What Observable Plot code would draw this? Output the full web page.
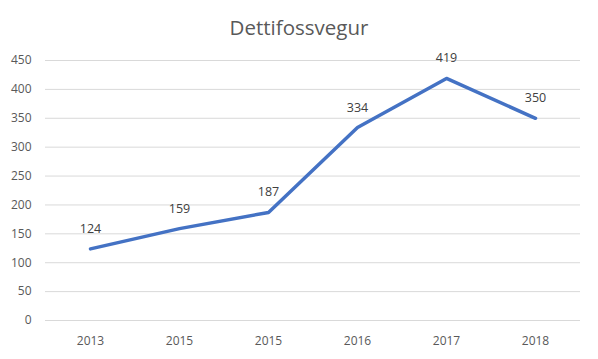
<!DOCTYPE html>
<html>
<head>
<meta charset="utf-8">
<script src="https://cdn.jsdelivr.net/npm/d3@7"></script>
<script src="https://cdn.jsdelivr.net/npm/@observablehq/plot@0.6"></script>
<style>
  body { margin: 0; background: #fff; font-family: "Open Sans", "Liberation Sans", sans-serif; }
  #title { height: 45px; line-height: 54px; text-align: center; font-size: 20.5px; color: #595959; width: 598px; }
</style>
</head>
<body>
<div id="title">Dettifossvegur</div>
<div id="chart"></div>
<script>
const categories = ["2013", "2015", "2015", "2016", "2017", "2018"];
const values = [124, 159, 187, 334, 419, 350];
const yTicks = [0, 50, 100, 150, 200, 250, 300, 350, 400, 450];

const data = categories.map((c, i) => ({i, label: c, value: values[i]}));

const chart = Plot.plot({
  width: 598,
  height: 314,
  marginLeft: 45,
  marginRight: 18,
  marginTop: 15,
  marginBottom: 39,
  style: {fontFamily: "'Open Sans', 'Liberation Sans', sans-serif", fontSize: "12px", color: "#595959"},
  x: {type: "point", domain: d3.range(categories.length), padding: 0.5, label: null},
  y: {domain: [0, 450], label: null},
  marks: [
    Plot.gridY(yTicks, {stroke: "#d9d9d9", strokeOpacity: 1, strokeWidth: 1}),
    Plot.axisY(yTicks, {tickSize: 0, tickPadding: 14, fontSize: 12, fill: "#595959"}),
    Plot.axisX(d3.range(categories.length), {tickSize: 0, tickPadding: 16, tickFormat: i => categories[i], fontSize: 12, fill: "#595959"}),
    Plot.line(data, {x: "i", y: "value", stroke: "#4472C4", strokeWidth: 3.5, strokeLinecap: "round", strokeLinejoin: "round"}),
    Plot.text(data, {x: "i", y: "value", text: d => String(d.value), dy: -20, fontSize: 12.5, fill: "#404040"})
  ]
});
document.getElementById("chart").appendChild(chart);
</script>
</body>
</html>
